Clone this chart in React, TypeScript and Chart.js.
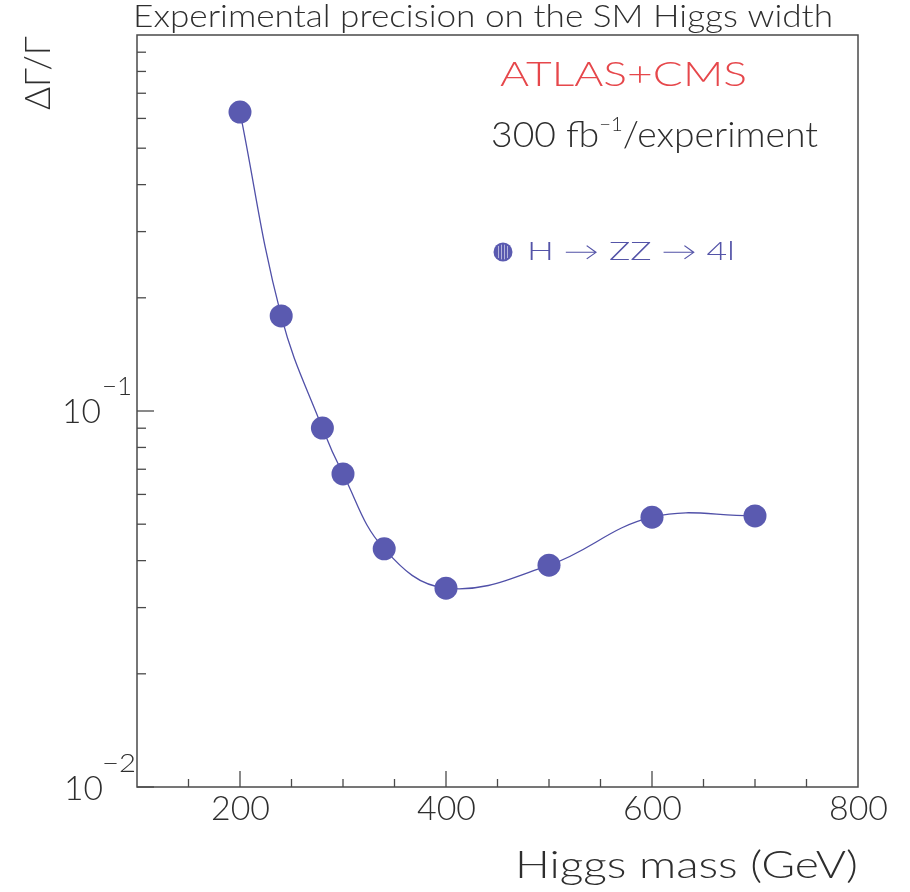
import React, { useEffect, useRef } from 'react';
import { Chart, registerables } from 'chart.js';

Chart.register(...registerables);

// ---- data ----
const higgsMass = [200, 240, 280, 300, 340, 400, 500, 600, 700];
const widthPrecision = [0.624, 0.179, 0.0901, 0.068, 0.043, 0.0338, 0.0389, 0.0522, 0.0526];
const xTickValues = [200, 400, 600, 800];
const xTickLabels = ['200', '400', '600', '800'];
const yDecadeValues = [0.1, 0.01];
const yDecadeExponents = ['\u22121', '\u22122'];

const FONT = 'Lato, "Open Sans", "DejaVu Sans", sans-serif';
const BLUE = '#5a5ab0';

function fitText(ctx: CanvasRenderingContext2D, text: string, left: number, baseline: number, size: number, width: number, color: string, weight = '300') {
  ctx.save();
  ctx.font = `${weight} ${size}px ${FONT}`;
  ctx.fillStyle = color;
  ctx.textAlign = 'left';
  ctx.textBaseline = 'alphabetic';
  const w = ctx.measureText(text).width;
  ctx.translate(left, baseline);
  ctx.scale(width / w, 1);
  ctx.fillText(text, 0, 0);
  ctx.restore();
}

type Part = { text: string; size: number; dy: number };
function richText(ctx: CanvasRenderingContext2D, parts: Part[], left: number, baseline: number, width: number, color: string) {
  ctx.save();
  ctx.fillStyle = color;
  ctx.textBaseline = 'alphabetic';
  let total = 0;
  const ws = parts.map((p) => {
    ctx.font = `300 ${p.size}px ${FONT}`;
    const w = ctx.measureText(p.text).width;
    total += w;
    return w;
  });
  const s = width / total;
  ctx.translate(left, baseline);
  ctx.scale(s, 1);
  let x = 0;
  parts.forEach((p, i) => {
    ctx.font = `300 ${p.size}px ${FONT}`;
    ctx.fillText(p.text, x, p.dy);
    x += ws[i];
  });
  ctx.restore();
}

const decorPlugin = {
  id: 'decor',
  beforeDatasetsDraw(chart: any) {
    const { ctx, chartArea: a } = chart;
    const xs = chart.scales.x;
    const ys = chart.scales.y;
    ctx.save();
    ctx.strokeStyle = '#4a4a4a';
    ctx.lineWidth = 1.5;
    ctx.strokeRect(a.left, a.top, a.right - a.left, a.bottom - a.top);
    ctx.lineWidth = 1.3;
    [0.01, 0.1].forEach((d) => {
      for (let k = 1; k <= 9; k++) {
        const v = k * d;
        const y = ys.getPixelForValue(v);
        const len = k === 1 ? 17 : 9;
        ctx.beginPath();
        ctx.moveTo(a.left, y);
        ctx.lineTo(a.left + len, y);
        ctx.stroke();
      }
    });
    for (let v = 150; v < 800; v += 50) {
      const x = xs.getPixelForValue(v);
      const len = v % 200 === 0 ? 16 : 8;
      ctx.beginPath();
      ctx.moveTo(x, a.bottom);
      ctx.lineTo(x, a.bottom - len);
      ctx.stroke();
    }
    ctx.restore();
  },
  afterDraw(chart: any) {
    const { ctx } = chart;
    const xs = chart.scales.x;
    const ys = chart.scales.y;
    const dark = '#2e2e2e';
    fitText(ctx, 'Experimental precision on the SM Higgs width', 133, 27, 31, 700, dark);
    ctx.save();
    ctx.translate(50, 110);
    ctx.rotate(-Math.PI / 2);
    fitText(ctx, '\u0394\u0393/\u0393', 0, 0, 36, 74, dark);
    ctx.restore();
    yDecadeValues.forEach((v, i) => {
      const y = ys.getPixelForValue(v);
      const base = i === 0 ? y + 12 : y + 13;
      fitText(ctx, '10', i === 0 ? 62 : 64, base, 33, 39, dark);
      fitText(ctx, yDecadeExponents[i], 102, base - 28, 25, i === 0 ? 30 : 34, dark);
    });
    xTickValues.forEach((v, i) => {
      const x = xs.getPixelForValue(v);
      fitText(ctx, xTickLabels[i], x - 29, 820, 33, 59, dark);
    });
    fitText(ctx, 'Higgs mass (GeV)', 515, 878, 37, 343, dark);
    fitText(ctx, 'ATLAS+CMS', 500, 86, 34, 247, '#e6474b');
    richText(ctx, [
      { text: '300 fb', size: 35, dy: 0 },
      { text: '\u22121', size: 19, dy: -16 },
      { text: '/experiment', size: 35, dy: 0 },
    ], 491, 147, 327, dark);
    ctx.save();
    ctx.fillStyle = BLUE;
    ctx.beginPath();
    ctx.arc(503, 252, 9.5, 0, Math.PI * 2);
    ctx.fill();
    ctx.strokeStyle = 'rgba(255,255,255,0.55)';
    ctx.lineWidth = 1;
    [-4.5, -1.5, 1.5, 4.5].forEach((dx) => {
      const h = Math.sqrt(Math.max(0, 7.5 * 7.5 - dx * dx));
      ctx.beginPath();
      ctx.moveTo(503 + dx, 252 - h);
      ctx.lineTo(503 + dx, 252 + h);
      ctx.stroke();
    });
    ctx.restore();
    fitText(ctx, 'H \u2192 ZZ \u2192 4l', 527, 260, 25, 208, '#5454a8');
  },
};

export default function App() {
  const ref = useRef<HTMLCanvasElement | null>(null);
  useEffect(() => {
    if (!ref.current) return;
    const chart = new Chart(ref.current, {
      type: 'line',
      data: {
        datasets: [
          {
            label: 'H \u2192 ZZ \u2192 4l',
            data: higgsMass.map((m, i) => ({ x: m, y: widthPrecision[i] })),
            borderColor: '#5050a8',
            borderWidth: 1.3,
            backgroundColor: BLUE,
            pointBackgroundColor: BLUE,
            pointBorderWidth: 0,
            pointRadius: 11.5,
            tension: 0.4,
            fill: false,
          },
        ],
      },
      options: {
        responsive: false,
        animation: false,
        layout: { padding: { left: 137, right: 52, top: 35, bottom: 105 } },
        plugins: { legend: { display: false }, tooltip: { enabled: false }, title: { display: false } },
        scales: {
          x: { type: 'linear', min: 100, max: 800, display: false },
          y: { type: 'logarithmic', min: 0.01, max: 1, display: false },
        },
        clip: false as any,
      },
      plugins: [decorPlugin],
    });
    return () => chart.destroy();
  }, []);
  return (
    <div style={{ position: 'absolute', left: 0, top: 0, width: 910, height: 892, background: '#fff' }}>
      <canvas ref={ref} width={910} height={892} style={{ display: 'block' }} />
    </div>
  );
}
